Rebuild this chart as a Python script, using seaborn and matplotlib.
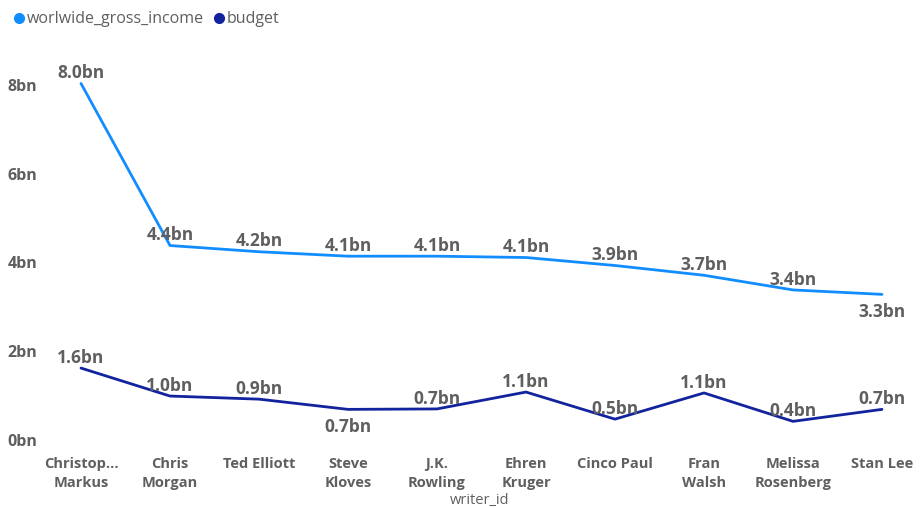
import numpy as np
import pandas as pd
import matplotlib
matplotlib.use('Agg')
import matplotlib.pyplot as plt
from matplotlib.lines import Line2D
from matplotlib.ticker import FuncFormatter
import seaborn as sns

writers = ['Christop...\nMarkus', 'Chris\nMorgan', 'Ted Elliott', 'Steve\nKloves', 'J.K.\nRowling',
           'Ehren\nKruger', 'Cinco Paul', 'Fran\nWalsh', 'Melissa\nRosenberg', 'Stan Lee']
gross = [8.03, 4.38, 4.24, 4.14, 4.14, 4.11, 3.93, 3.71, 3.38, 3.28]
budget = [1.62, 0.99, 0.92, 0.69, 0.70, 1.08, 0.47, 1.06, 0.42, 0.69]
gross_below = [False] * 9 + [True]
budget_below = [False, False, False, True, False, False, False, False, False, False]

light = '#118DFF'
dark = '#12239E'
grey = '#5f5f5f'

sns.set_style('white')
plt.rcParams['font.family'] = ['Open Sans', 'DejaVu Sans']

df = pd.DataFrame({'pos': np.arange(len(writers)), 'worlwide_gross_income': gross, 'budget': budget})
long = df.melt(id_vars='pos', var_name='series', value_name='value')

fig = plt.figure(figsize=(9.21, 5.08), dpi=100)
ax = fig.add_axes([40 / 921, 68 / 508, 881 / 921, 380 / 508])
sns.lineplot(data=long, x='pos', y='value', hue='series',
             palette={'worlwide_gross_income': light, 'budget': dark},
             linewidth=2, ax=ax, legend=False)

ax.set_xlim(-41 / 89, 840 / 89)
ax.set_ylim(0, 380 / 44.4)
ax.set_yticks([0, 2, 4, 6, 8])
ax.yaxis.set_major_formatter(FuncFormatter(lambda v, p: f'{v:.0f}bn'))
ax.set_xticks(range(len(writers)))
ax.set_xticklabels(writers, fontweight='bold', color=grey, fontsize=10.5, linespacing=1.5)
for t in ax.get_yticklabels():
    t.set_fontweight('bold')
    t.set_color(grey)
    t.set_fontsize(11.5)
ax.tick_params(axis='both', length=0, pad=2)
ax.tick_params(axis='x', pad=12)
ax.set_xlabel('')
ax.set_ylabel('')
sns.despine(ax=ax, left=True, bottom=True)

for vals, below in [(gross, gross_below), (budget, budget_below)]:
    for i, (v, b) in enumerate(zip(vals, below)):
        ax.annotate(f'{v:.1f}bn', (i, v), xytext=(0, -6 if b else 1), textcoords='offset points',
                    ha='center', va='top' if b else 'bottom', fontsize=12.5,
                    fontweight='bold', color=grey)

fig.text(480 / 921, 8 / 508, 'writer_id', ha='center', va='center', fontsize=10.5, color=grey)

handles = [Line2D([], [], marker='o', linestyle='', color=light, markersize=7),
           Line2D([], [], marker='o', linestyle='', color=dark, markersize=7)]
fig.legend(handles, ['worlwide_gross_income', 'budget'], loc='upper left',
           bbox_to_anchor=(0.0, 1.0), ncol=2, frameon=False, fontsize=11.5,
           labelcolor=grey, handletextpad=0.0, columnspacing=0.4, borderaxespad=0.3,
           handlelength=1.0)

fig.savefig('out.png', dpi=100)
